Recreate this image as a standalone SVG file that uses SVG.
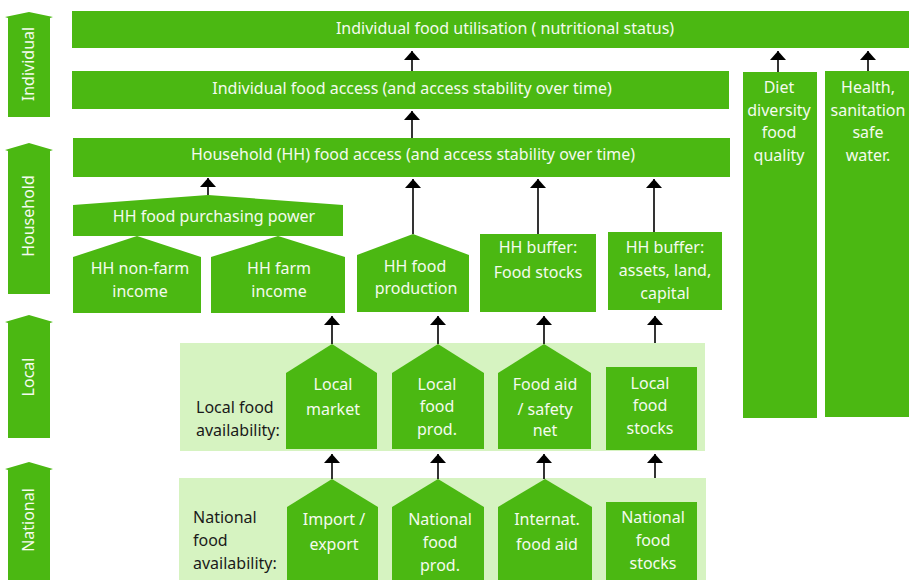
<svg xmlns="http://www.w3.org/2000/svg" width="909" height="580" viewBox="0 0 909 580">
<style>
.g{fill:#4bb812}
.band{fill:#d6f3c1}
.t{font-family:"Noto Sans","Open Sans","Liberation Sans",sans-serif;font-size:16px;fill:#f4fbee;text-anchor:middle}
.d{font-family:"Noto Sans","Open Sans","Liberation Sans",sans-serif;font-size:16px;fill:#1a1a1a}
.c line{stroke:#000;stroke-width:1.6;marker-end:url(#ah)}
</style>
<defs>
<marker id="ah" viewBox="0 0 9 16" refX="9" refY="8" markerWidth="9" markerHeight="16" markerUnits="userSpaceOnUse" orient="auto">
<path d="M0,0 L9,8 L0,16 Z" fill="#000"/>
</marker>
</defs>
<rect width="909" height="580" fill="#fff"/>
<g id="levels">
<g id="lvl-individual"><polygon class="g" points="29,12 53,17 50,18 50,117 8,117 8,18 5,17"/><text class="t" transform="translate(34,64) rotate(-90)">Individual</text></g>
<g id="lvl-household"><polygon class="g" points="29,143 53,150 50,151 50,294 8,294 8,151 5,150"/><text class="t" transform="translate(34,216) rotate(-90)">Household</text></g>
<g id="lvl-local"><polygon class="g" points="29,315 53,322 50,323 50,438 8,438 8,323 5,322"/><text class="t" transform="translate(34,377) rotate(-90)">Local</text></g>
<g id="lvl-national"><polygon class="g" points="29,462 53,469 50,470 50,580 8,580 8,470 5,469"/><text class="t" transform="translate(34,520) rotate(-90)">National</text></g>
</g>
<g id="bands">
<rect id="local-band" class="band" x="180" y="343" width="525" height="108"/>
<rect id="national-band" class="band" x="179" y="478" width="527" height="102"/>
<text class="d" x="196" y="412.5">Local food</text>
<text class="d" x="196" y="435.5">availability:</text>
<text class="d" x="193" y="522.5">National</text>
<text class="d" x="193" y="545.5">food</text>
<text class="d" x="193" y="568.5">availability:</text>
</g>
<g id="n-utilisation"><rect class="g" x="72" y="11" width="837" height="37"/><text class="t" x="505" y="33.5">Individual food utilisation ( nutritional status)</text></g>
<g id="n-ind-access"><rect class="g" x="72" y="71" width="657" height="38"/><text class="t" x="412" y="93.5">Individual food access (and access stability over time)</text></g>
<g id="n-hh-access"><rect class="g" x="73" y="138" width="657" height="39"/><text class="t" x="413" y="159.5">Household (HH) food access (and access stability over time)</text></g>
<g id="n-diet"><rect class="g" x="743" y="72" width="74" height="346"/><text class="t" x="779" y="92.5">Diet</text><text class="t" x="779" y="115.5">diversity</text><text class="t" x="779" y="137.5">food</text><text class="t" x="779" y="160.5">quality</text></g>
<g id="n-health"><rect class="g" x="825" y="71" width="84" height="346"/><text class="t" x="868" y="92.5">Health,</text><text class="t" x="868" y="115.5">sanitation</text><text class="t" x="868" y="137.5">safe</text><text class="t" x="868" y="160.5">water.</text></g>
<g id="n-purchasing"><polygon class="g" points="73,205 208,195 343,205 343,236 73,236"/><text class="t" x="214" y="221.5">HH food purchasing power</text></g>
<g id="n-nonfarm"><polygon class="g" points="73,257 137,236 201,257 201,313 73,313"/><text class="t" x="140" y="273.5">HH non-farm</text><text class="t" x="140" y="296.5">income</text></g>
<g id="n-farm"><polygon class="g" points="211,257 278,236 345,257 345,313 211,313"/><text class="t" x="279" y="273.5">HH farm</text><text class="t" x="279" y="296.5">income</text></g>
<g id="n-hh-prod"><polygon class="g" points="357,255 413,234 469,255 469,312 357,312"/><text class="t" x="415" y="271.5">HH food</text><text class="t" x="416" y="294">production</text></g>
<g id="n-hh-stocks"><rect class="g" x="480" y="234" width="116" height="78"/><text class="t" x="538" y="253">HH buffer:</text><text class="t" x="538" y="278">Food stocks</text></g>
<g id="n-hh-assets"><rect class="g" x="608" y="232" width="114" height="78"/><text class="t" x="665" y="252.5">HH buffer:</text><text class="t" x="665" y="275.5">assets, land,</text><text class="t" x="665" y="298.5">capital</text></g>
<g id="n-local-market"><polygon class="g" points="286,373 332,344 377,373 377,449 286,449"/><text class="t" x="333" y="389.5">Local</text><text class="t" x="333" y="414.5">market</text></g>
<g id="n-local-prod"><polygon class="g" points="392,373 438,344 484,373 484,449 392,449"/><text class="t" x="437" y="389.5">Local</text><text class="t" x="437" y="411.5">food</text><text class="t" x="437" y="434.5">prod.</text></g>
<g id="n-food-aid"><polygon class="g" points="498,373 544,344 591,373 591,449 498,449"/><text class="t" x="545" y="389.5">Food aid</text><text class="t" x="545" y="414.5">/ safety</text><text class="t" x="545" y="435.5">net</text></g>
<g id="n-local-stocks"><rect class="g" x="606" y="367" width="91" height="83"/><text class="t" x="650" y="388.5">Local</text><text class="t" x="650" y="410.5">food</text><text class="t" x="650" y="433.5">stocks</text></g>
<g id="n-import"><polygon class="g" points="287,507 332,479 378,507 378,580 287,580"/><text class="t" x="334" y="524.5">Import /</text><text class="t" x="334" y="549.5">export</text></g>
<g id="n-nat-prod"><polygon class="g" points="392,507 438,479 484,507 484,580 392,580"/><text class="t" x="440" y="524.5">National</text><text class="t" x="440" y="547.5">food</text><text class="t" x="440" y="570.5">prod.</text></g>
<g id="n-internat"><polygon class="g" points="498,507 545,479 592,507 592,580 498,580"/><text class="t" x="547" y="524.5">Internat.</text><text class="t" x="547" y="549.5">food aid</text></g>
<g id="n-nat-stocks"><rect class="g" x="606" y="502" width="91" height="78"/><text class="t" x="653" y="522.5">National</text><text class="t" x="653" y="545.5">food</text><text class="t" x="653" y="568.5">stocks</text></g>
<g id="connectors" class="c">
<line x1="412" y1="71" x2="412" y2="51"/>
<line x1="412" y1="138" x2="412" y2="111"/>
<line x1="778" y1="72" x2="778" y2="51"/>
<line x1="868" y1="71" x2="868" y2="51"/>
<line x1="208" y1="195" x2="208" y2="178"/>
<line x1="413" y1="234" x2="413" y2="179"/>
<line x1="538" y1="234" x2="538" y2="179"/>
<line x1="654" y1="232" x2="654" y2="179"/>
<line x1="332" y1="344" x2="332" y2="316"/>
<line x1="438" y1="344" x2="438" y2="316"/>
<line x1="544" y1="344" x2="544" y2="316"/>
<line x1="655" y1="343" x2="655" y2="316"/>
<line x1="332" y1="479" x2="332" y2="454"/>
<line x1="438" y1="479" x2="438" y2="454"/>
<line x1="544" y1="479" x2="544" y2="454"/>
<line x1="655" y1="478" x2="655" y2="454"/>
</g>
</svg>
